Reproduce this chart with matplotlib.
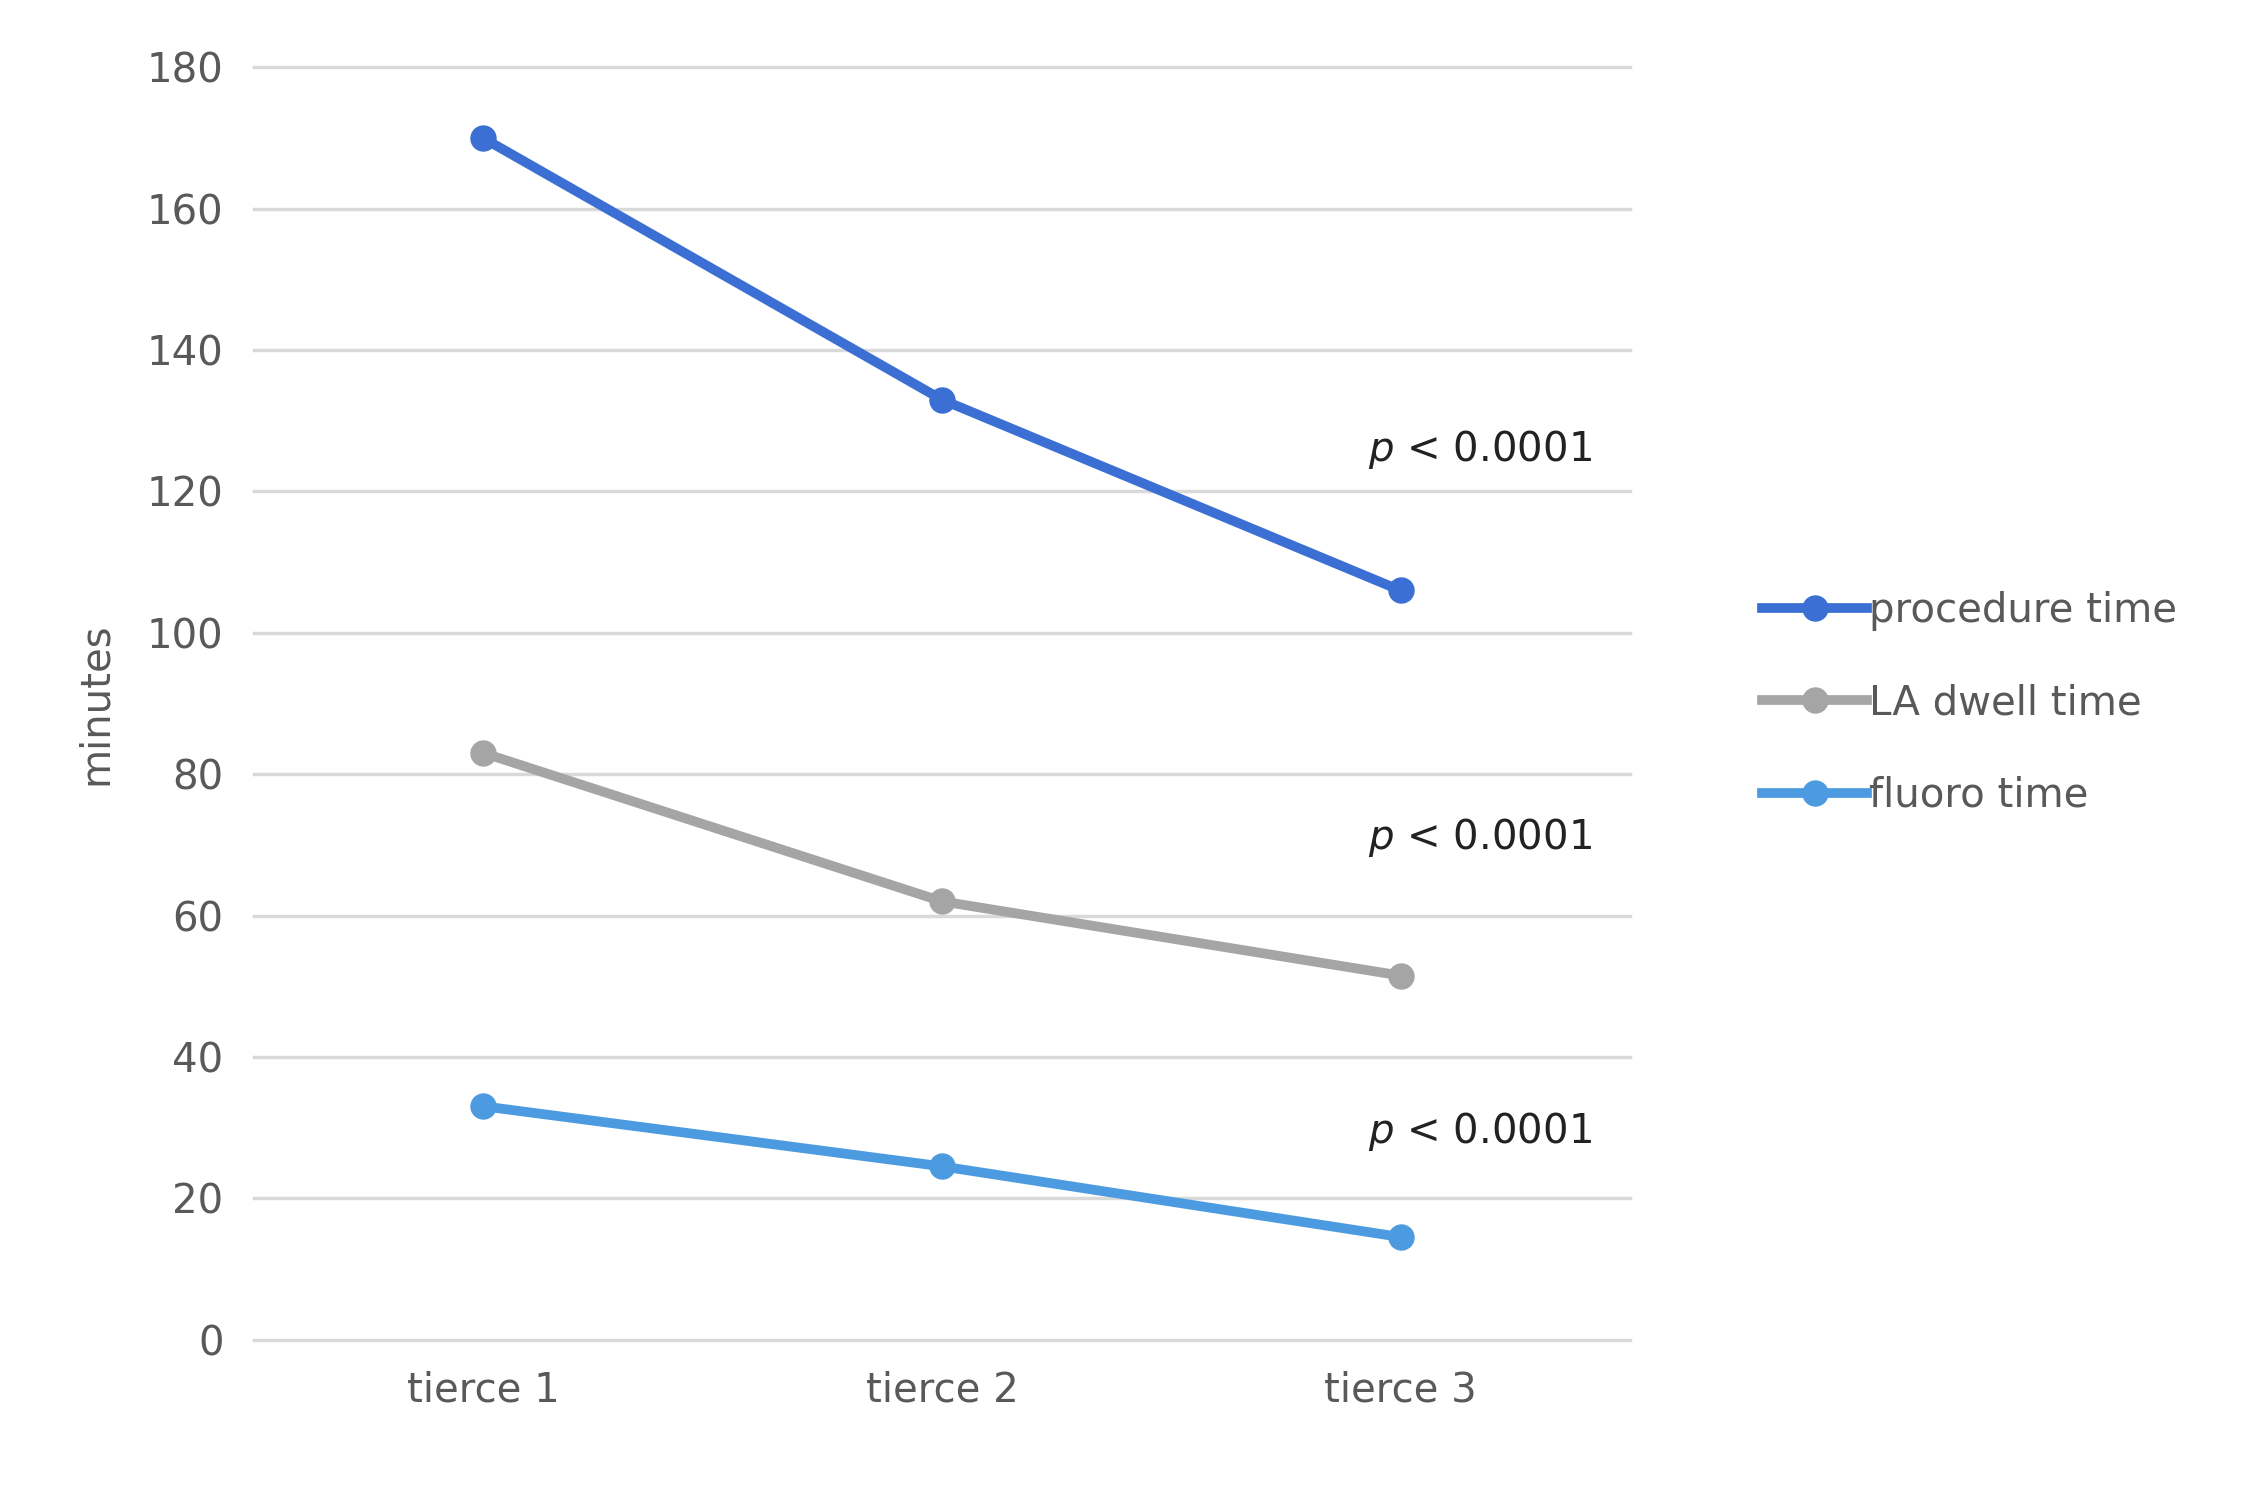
import matplotlib
matplotlib.use("Agg")
import matplotlib.pyplot as plt

categories = ["tierce 1", "tierce 2", "tierce 3"]
procedure = [170, 133, 106]
la_dwell = [83, 62, 51.5]
fluoro = [33, 24.5, 14.5]
p_labels = ["p < 0.0001", "p < 0.0001", "p < 0.0001"]
p_y = [126, 71, 29.5]

fig = plt.figure(figsize=(22.48, 15), dpi=100)
ax = fig.add_axes([0.113, 0.107, 0.612, 0.848])
x = range(len(categories))
series = [(procedure, "procedure time", "#3b6fd3"),
          (la_dwell, "LA dwell time", "#a5a5a5"),
          (fluoro, "fluoro time", "#4c9be0")]
for vals, lab, col in series:
    ax.plot(x, vals, color=col, lw=7, marker="o", ms=18, label=lab)
ax.set_xlim(-0.5, 2.5)
ax.set_ylim(0, 180)
ax.set_yticks(range(0, 181, 20))
ax.set_xticks(list(x))
ax.set_xticklabels(categories)
for gy in range(0, 181, 20):
    ax.axhline(gy, color="#d9d9d9", lw=2.5, zorder=0, clip_on=False)
for s in ax.spines.values():
    s.set_visible(False)
ax.tick_params(length=0, labelsize=29, colors="#595959", pad=22)
ax.set_ylabel("minutes", fontsize=29, color="#595959", labelpad=22)
for y, t in zip(p_y, p_labels):
    ax.text(1.93, y, r"$\it{p}$" + t[1:], fontsize=29, color="#222222", va="center")
leg = ax.legend(loc="center left", bbox_to_anchor=(1.07, 0.5), frameon=False,
                fontsize=29, labelcolor="#595959", handlelength=2.6, handletextpad=0.05,
                labelspacing=1.3)
fig.savefig("out.png")
